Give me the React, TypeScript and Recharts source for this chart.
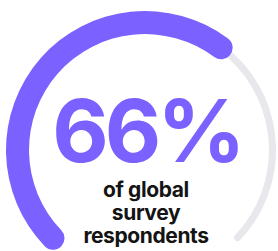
import { PieChart, Pie, Cell } from 'recharts';

const share = [
  { name: 'respondents', value: 66 },
  { name: 'rest', value: 34 },
];
const track = [{ name: 'track', value: 100 }];
const headline = '66%';
const caption = ['of global', 'survey', 'respondents'];

const PURPLE = '#7B61FF';
const GRAY = '#E7E7EC';

export default function App() {
  const W = 278;
  const H = 251;
  const cx = 145;
  const cy = 150;
  const start = 229;
  const end = -45;

  return (
    <div style={{ position: 'absolute', left: 0, top: 0, width: W, height: H, background: '#fff' }}>
      <PieChart width={W} height={H} margin={{ top: 0, right: 0, bottom: 0, left: 0 }}>
        <Pie
          data={track}
          dataKey="value"
          cx={cx}
          cy={cy}
          innerRadius={124}
          outerRadius={131}
          startAngle={start}
          endAngle={end}
          cornerRadius={3.5}
          stroke="none"
          isAnimationActive={false}
        >
          <Cell fill={GRAY} />
        </Pie>
        <Pie
          data={share}
          dataKey="value"
          cx={cx}
          cy={cy}
          innerRadius={116}
          outerRadius={139}
          startAngle={start}
          endAngle={end}
          cornerRadius={11.5}
          stroke="none"
          isAnimationActive={false}
        >
          <Cell fill={PURPLE} />
          <Cell fill="transparent" />
        </Pie>
      </PieChart>
      <svg width={W} height={H} style={{ position: 'absolute', left: 0, top: 0, pointerEvents: 'none' }}>
        <text
          x={147}
          y={162}
          textAnchor="middle"
          fill={PURPLE}
          style={{ fontFamily: 'Inter, sans-serif', fontWeight: 700, fontSize: 87, letterSpacing: -4 }}
        >
          {headline}
        </text>
        {caption.map((line, i) => (
          <text
            key={line}
            x={146}
            y={197 + i * 23}
            textAnchor="middle"
            fill="#141414"
            style={{ fontFamily: 'Inter, sans-serif', fontWeight: 700, fontSize: 21, letterSpacing: -0.4 }}
          >
            {line}
          </text>
        ))}
      </svg>
    </div>
  );
}
